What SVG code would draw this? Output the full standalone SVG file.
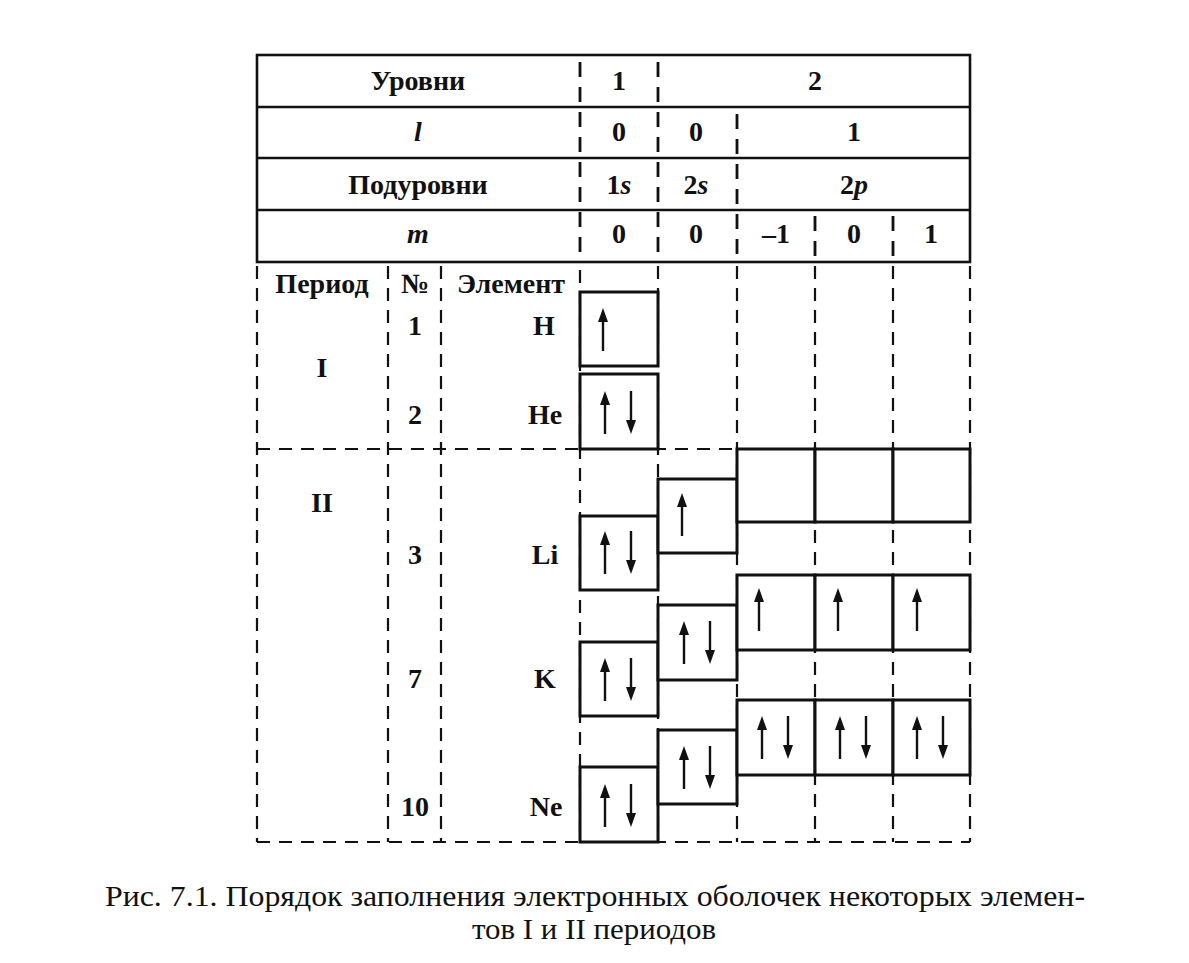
<svg xmlns="http://www.w3.org/2000/svg" xmlns:xlink="http://www.w3.org/1999/xlink" width="1189" height="963" viewBox="0 0 1189 963">
<style>
.t{font-family:"Liberation Serif","Times New Roman",serif;font-size:28px;font-weight:bold;fill:#111;text-anchor:middle}
.i{font-style:italic}
.cap{font-family:"Liberation Serif","Times New Roman",serif;font-size:30px;fill:#111;text-anchor:middle}
.solid{stroke:#111;stroke-width:2.6;fill:none}
.dash{stroke:#111;stroke-width:2.2;fill:none;stroke-dasharray:13 9}
.hd{stroke:#111;stroke-width:2.8;fill:none;stroke-dasharray:15 10}
.box{stroke:#111;stroke-width:3;fill:#fff}
.arr line{stroke:#111;stroke-width:2.4}
.arr path{fill:#111;stroke:none}
</style>
<defs>
<g id="up" class="arr"><line x1="0" y1="10" x2="0" y2="43"/><path d="M0,0 L-5,14 L5,14 Z"/></g>
<g id="dn" class="arr"><line x1="0" y1="0" x2="0" y2="33"/><path d="M0,43 L-5,29 L5,29 Z"/></g>
</defs>
<rect width="1189" height="963" fill="#fff"/>

<g id="header">
<rect class="solid" x="257" y="55" width="713" height="207"/>
<line class="solid" x1="257" y1="107" x2="970" y2="107"/>
<line class="solid" x1="257" y1="158" x2="970" y2="158"/>
<line class="solid" x1="257" y1="210" x2="970" y2="210"/>
<line class="hd" x1="580" y1="62" x2="580" y2="262"/>
<line class="hd" x1="658" y1="62" x2="658" y2="262"/>
<line class="hd" x1="737" y1="114" x2="737" y2="262"/>
<line class="hd" x1="815" y1="216" x2="815" y2="262"/>
<line class="hd" x1="893" y1="216" x2="893" y2="262"/>
<text class="t" x="418" y="90">Уровни</text>
<text class="t" x="619" y="90">1</text>
<text class="t" x="815" y="90">2</text>
<text class="t i" x="418" y="141">l</text>
<text class="t" x="619" y="141">0</text>
<text class="t" x="696" y="141">0</text>
<text class="t" x="854" y="141">1</text>
<text class="t" x="418" y="194">Подуровни</text>
<text class="t" x="619" y="194">1<tspan class="i">s</tspan></text>
<text class="t" x="696" y="194">2<tspan class="i">s</tspan></text>
<text class="t" x="854" y="194">2<tspan class="i">p</tspan></text>
<text class="t i" x="418" y="243">m</text>
<text class="t" x="619" y="243">0</text>
<text class="t" x="696" y="243">0</text>
<text class="t" x="776" y="243">–1</text>
<text class="t" x="854" y="243">0</text>
<text class="t" x="931" y="243">1</text>
</g>

<g id="connectors">
<line class="dash" x1="257" y1="266" x2="257" y2="842"/>
<line class="dash" x1="388" y1="266" x2="388" y2="842"/>
<line class="dash" x1="441" y1="266" x2="441" y2="842"/>
<line class="dash" x1="580" y1="270" x2="580" y2="842"/>
<line class="dash" x1="658" y1="266" x2="658" y2="842"/>
<line class="dash" x1="737" y1="266" x2="737" y2="842"/>
<line class="dash" x1="815" y1="266" x2="815" y2="842"/>
<line class="dash" x1="893" y1="266" x2="893" y2="842"/>
<line class="dash" x1="970" y1="266" x2="970" y2="842"/>
<line class="dash" x1="257" y1="449" x2="970" y2="449"/>
<line class="dash" x1="257" y1="842" x2="970" y2="842"/>
</g>

<g id="labels">
<text class="t" x="322" y="293">Период</text>
<text class="t" x="415" y="293">№</text>
<text class="t" x="511" y="293">Элемент</text>
<text class="t" x="322" y="377">I</text>
<text class="t" x="415" y="335">1</text>
<text class="t" x="544" y="335">H</text>
<text class="t" x="415" y="424">2</text>
<text class="t" x="545" y="424">He</text>
<text class="t" x="322" y="512">II</text>
<text class="t" x="415" y="564">3</text>
<text class="t" x="545" y="564">Li</text>
<text class="t" x="415" y="688">7</text>
<text class="t" x="545" y="688">K</text>
<text class="t" x="415" y="816">10</text>
<text class="t" x="546" y="816">Ne</text>
</g>

<g id="H-1s"><rect class="box" x="580" y="292" width="78" height="74"/><use xlink:href="#up" x="603" y="308"/></g>
<g id="He-1s"><rect class="box" x="580" y="374" width="78" height="75"/><use xlink:href="#up" x="605" y="391"/><use xlink:href="#dn" x="631" y="391"/></g>

<g id="Li-1s"><rect class="box" x="580" y="516" width="78" height="74"/><use xlink:href="#up" x="605" y="531"/><use xlink:href="#dn" x="631" y="531"/></g>
<g id="Li-2s"><rect class="box" x="658" y="479" width="79" height="74"/><use xlink:href="#up" x="682" y="493"/></g>
<g id="Li-2p"><rect class="box" x="737" y="449" width="78" height="73"/><rect class="box" x="815" y="449" width="78" height="73"/><rect class="box" x="893" y="449" width="77" height="73"/></g>

<g id="K-1s"><rect class="box" x="580" y="642" width="78" height="74"/><use xlink:href="#up" x="605" y="658"/><use xlink:href="#dn" x="631" y="658"/></g>
<g id="K-2s"><rect class="box" x="658" y="605" width="79" height="75"/><use xlink:href="#up" x="684" y="621"/><use xlink:href="#dn" x="710" y="621"/></g>
<g id="K-2p"><rect class="box" x="737" y="575" width="78" height="75"/><rect class="box" x="815" y="575" width="78" height="75"/><rect class="box" x="893" y="575" width="77" height="75"/><use xlink:href="#up" x="759" y="588"/><use xlink:href="#up" x="838" y="588"/><use xlink:href="#up" x="917" y="588"/></g>

<g id="Ne-1s"><rect class="box" x="580" y="767" width="78" height="75"/><use xlink:href="#up" x="605" y="784"/><use xlink:href="#dn" x="631" y="784"/></g>
<g id="Ne-2s"><rect class="box" x="658" y="730" width="79" height="74"/><use xlink:href="#up" x="684" y="746"/><use xlink:href="#dn" x="710" y="746"/></g>
<g id="Ne-2p"><rect class="box" x="737" y="700" width="78" height="75"/><rect class="box" x="815" y="700" width="78" height="75"/><rect class="box" x="893" y="700" width="77" height="75"/><use xlink:href="#up" x="762" y="716"/><use xlink:href="#dn" x="788" y="716"/><use xlink:href="#up" x="840" y="716"/><use xlink:href="#dn" x="866" y="716"/><use xlink:href="#up" x="917" y="716"/><use xlink:href="#dn" x="943" y="716"/></g>

<g id="caption">
<text class="cap" x="595" y="906" textLength="980" lengthAdjust="spacingAndGlyphs">Рис. 7.1. Порядок заполнения электронных оболочек некоторых элемен-</text>
<text class="cap" x="594" y="939" textLength="244" lengthAdjust="spacingAndGlyphs">тов I и II периодов</text>
</g>
</svg>
